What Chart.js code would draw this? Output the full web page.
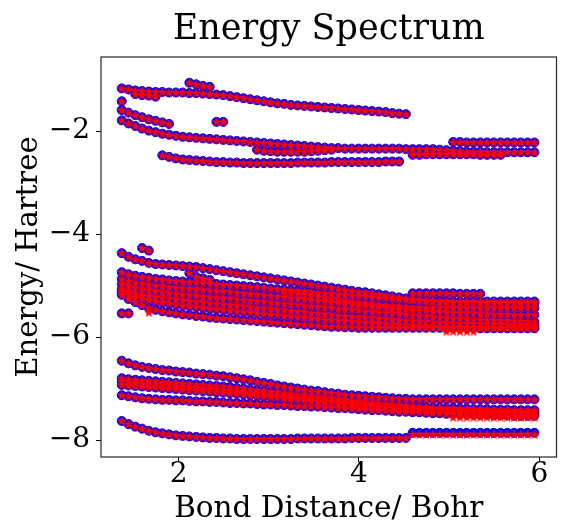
<!DOCTYPE html>
<html>
<head>
<meta charset="utf-8">
<script src="https://cdn.jsdelivr.net/npm/chart.js@4.4.0/dist/chart.umd.min.js"></script>
<style>
html,body{margin:0;padding:0;background:#fff;}
</style>
</head>
<body>
<canvas id="chart" width="562" height="527"></canvas>
<script>
// bond distances (Bohr), shared by every level
const xs=[1.370,1.445,1.520,1.595,1.670,1.745,1.820,1.895,1.970,2.045,2.120,2.195,2.270,2.345,2.420,2.495,
  2.570,2.645,2.720,2.795,2.870,2.945,3.020,3.095,3.170,3.245,3.320,3.395,3.470,3.545,3.620,3.695,
  3.770,3.845,3.920,3.995,4.070,4.145,4.220,4.295,4.370,4.445,4.520,4.595,4.670,4.745,4.820,4.895,
  4.970,5.045,5.120,5.195,5.270,5.345,5.420,5.495,5.570,5.645,5.720,5.795,5.870,5.945];
const xTicks=[2,4,6];
const yTicks=[-8,-6,-4,-2];

// upper levels
const top1=[-1.17,-1.19,-1.21,-1.22,-1.23,-1.24,-1.24,-1.25,-1.25,-1.25,-1.26,-1.26,-1.27,-1.28,-1.29,-1.30,
  -1.32,-1.34,-1.36,-1.38,-1.40,-1.42,-1.44,-1.46,-1.47,-1.49,-1.50,-1.51,-1.52,-1.53,-1.54,-1.55,
  -1.56,-1.57,-1.58,-1.59,-1.60,-1.61,-1.62,-1.63,-1.65,-1.66,-1.67];
const top1b=[-1.28,-1.30,-1.31,-1.33];
const top2=[-1.06,-1.09,-1.12,-1.14];
const top3=[-1.42];
const top4=[-1.59,-1.64,-1.69,-1.73,-1.77,-1.80,-1.83,-1.86];
const top5=[-1.79,-1.85,-1.90,-1.95,-1.99,-2.02,-2.05,-2.07,-2.09,-2.11,-2.12,-2.13,-2.14,-2.15,-2.16,-2.17,
  -2.18,-2.19,-2.20,-2.21,-2.22,-2.23,-2.24,-2.25,-2.26,-2.27,-2.28,-2.29,-2.30,-2.31,-2.32,-2.33,
  -2.33,-2.34,-2.34,-2.34,-2.34,-2.34,-2.34,-2.34,-2.34,-2.34,-2.35,-2.35,-2.35,-2.35,-2.35,-2.36,
  -2.37,-2.38,-2.39,-2.40,-2.40,-2.40,-2.41,-2.41,-2.41,-2.41,-2.41,-2.41,-2.41,-2.41];
const top6=[-2.36,-2.38,-2.39,-2.40,-2.40,-2.40,-2.40,-2.40,-2.39,-2.38,-2.37,-2.36];
const top7=[-2.21,-2.21,-2.22,-2.22,-2.22,-2.22,-2.22,-2.22,-2.22,-2.22,-2.22,-2.22,-2.22];
const top8=[-2.46,-2.46,-2.45,-2.45,-2.45,-2.45,-2.45,-2.45,-2.45,-2.45,-2.46,-2.46,-2.46,-2.46];
const top9=[-2.47,-2.50,-2.53,-2.55,-2.56,-2.57,-2.58,-2.59,-2.60,-2.60,-2.61,-2.61,-2.62,-2.62,-2.62,-2.62,
  -2.62,-2.62,-2.62,-2.62,-2.61,-2.61,-2.61,-2.61,-2.61,-2.60,-2.60,-2.60,-2.60,-2.60,-2.60,-2.60,
  -2.60,-2.59,-2.59,-2.59];
const top10=[-1.82,-1.82];

// middle levels
const mid0=[-4.27,-4.32];
const mid1=[-4.37,-4.44,-4.49,-4.52,-4.56,-4.58,-4.59,-4.60,-4.61,-4.62,-4.63,-4.64,-4.66,-4.68,-4.70,-4.72,
  -4.74,-4.76,-4.78,-4.80,-4.82,-4.84,-4.86,-4.88,-4.90,-4.92,-4.94,-4.96,-4.98,-5.00,-5.02,-5.04,
  -5.06,-5.08,-5.10,-5.12,-5.13,-5.15,-5.17,-5.19,-5.21,-5.23,-5.25,-5.27,-5.29,-5.30,-5.31,-5.32,
  -5.33,-5.33,-5.33,-5.33,-5.33,-5.33,-5.33,-5.34,-5.34,-5.34,-5.34,-5.34,-5.34,-5.34];
const mid1b=[-4.76,-4.83,-4.86,-4.89];
const mid2=[-5.15,-5.15,-5.15,-5.15,-5.15,-5.15,-5.15,-5.16,-5.16,-5.16,-5.16];
const mid3=[-5.11,-5.13,-5.15,-5.17,-5.19,-5.21,-5.23,-5.25,-5.27,-5.29,-5.31,-5.33,-5.34,-5.35,-5.37,-5.38,
  -5.39,-5.40,-5.41,-5.42,-5.42,-5.43,-5.43,-5.43,-5.43,-5.43,-5.43,-5.44,-5.44,-5.44,-5.44,-5.44,
  -5.44,-5.44,-5.44,-5.44,-5.44,-5.44];
const mid4=[-4.74,-4.78,-4.81,-4.83,-4.85,-4.87,-4.88,-4.90,-4.91,-4.92,-4.93,-4.94,-4.95,-4.96,-4.97,-4.98,
  -4.99,-5.00,-5.01,-5.02,-5.03,-5.04,-5.06,-5.07,-5.08,-5.09,-5.10,-5.11,-5.12,-5.14,-5.15,-5.16,
  -5.17,-5.18,-5.19,-5.20,-5.21,-5.22,-5.23,-5.24,-5.25,-5.26,-5.27,-5.28,-5.28,-5.29,-5.29,-5.30,
  -5.30,-5.31,-5.31,-5.31,-5.31,-5.31,-5.31,-5.31,-5.31,-5.31,-5.31,-5.31,-5.31,-5.31];
const mid5=[-4.87,-4.91,-4.94,-4.96,-4.98,-5.00,-5.01,-5.03,-5.04,-5.05,-5.06,-5.07,-5.08,-5.09,-5.10,-5.11,
  -5.12,-5.14,-5.15,-5.16,-5.17,-5.18,-5.20,-5.21,-5.22,-5.24,-5.25,-5.26,-5.28,-5.29,-5.30,-5.32,
  -5.33,-5.35,-5.36,-5.37,-5.39,-5.40,-5.41,-5.42,-5.44,-5.45,-5.46,-5.47,-5.48,-5.49,-5.50,-5.51,
  -5.52,-5.53,-5.53,-5.54,-5.54,-5.55,-5.55,-5.56,-5.56,-5.56,-5.57,-5.57,-5.57,-5.57];
const mid6=[-4.97,-5.01,-5.04,-5.07,-5.09,-5.11,-5.13,-5.14,-5.16,-5.17,-5.18,-5.19,-5.21,-5.22,-5.23,-5.24,
  -5.25,-5.27,-5.28,-5.29,-5.30,-5.31,-5.33,-5.34,-5.35,-5.36,-5.37,-5.39,-5.40,-5.41,-5.42,-5.43,
  -5.45,-5.46,-5.47,-5.48,-5.50,-5.51,-5.52,-5.53,-5.54,-5.55,-5.56,-5.58,-5.59,-5.60,-5.61,-5.62,
  -5.63,-5.64,-5.64,-5.65,-5.66,-5.66,-5.67,-5.67,-5.68,-5.68,-5.69,-5.69,-5.70,-5.70];
const mid7=[-5.07,-5.11,-5.15,-5.18,-5.20,-5.22,-5.24,-5.25,-5.27,-5.28,-5.30,-5.31,-5.32,-5.34,-5.35,-5.36,
  -5.38,-5.39,-5.40,-5.41,-5.43,-5.44,-5.45,-5.46,-5.48,-5.49,-5.50,-5.51,-5.53,-5.54,-5.55,-5.56,
  -5.58,-5.59,-5.60,-5.61,-5.62,-5.63,-5.64,-5.65,-5.66,-5.67,-5.68,-5.69,-5.70,-5.71,-5.72,-5.72,
  -5.73,-5.73,-5.74,-5.74,-5.74,-5.75,-5.75,-5.75,-5.75,-5.76,-5.76,-5.76,-5.76,-5.76];
const mid8=[-5.12,-5.17,-5.22,-5.25,-5.28,-5.31,-5.33,-5.35,-5.37,-5.39,-5.40,-5.42,-5.43,-5.45,-5.46,-5.47,
  -5.49,-5.50,-5.51,-5.52,-5.54,-5.55,-5.56,-5.57,-5.59,-5.60,-5.61,-5.62,-5.64,-5.65,-5.66,-5.67,
  -5.68,-5.69,-5.70,-5.71,-5.72,-5.73,-5.74,-5.75,-5.76,-5.77,-5.77,-5.78,-5.78,-5.79,-5.79,-5.80,
  -5.80,-5.80,-5.81,-5.81,-5.81,-5.81,-5.81,-5.81,-5.81,-5.81,-5.81,-5.81,-5.81,-5.81];
const mid9=[-5.18,-5.26,-5.32,-5.38,-5.43,-5.47,-5.50,-5.52,-5.54,-5.56,-5.57,-5.59,-5.60,-5.62,-5.63,-5.64,
  -5.65,-5.66,-5.67,-5.68,-5.69,-5.70,-5.71,-5.72,-5.73,-5.74,-5.75,-5.76,-5.77,-5.78,-5.79,-5.80,
  -5.80,-5.81,-5.81,-5.82,-5.82,-5.82,-5.82,-5.82,-5.82,-5.82,-5.82,-5.82,-5.82,-5.82,-5.82,-5.82,
  -5.82,-5.82,-5.82,-5.82,-5.82,-5.83,-5.83,-5.83,-5.83,-5.83,-5.83,-5.83,-5.83,-5.83];
const mid10=[-5.54,-5.54];

// lower levels
const low1=[-6.46,-6.51,-6.55,-6.58,-6.60,-6.62,-6.64,-6.65,-6.67,-6.68,-6.69,-6.71,-6.72,-6.73,-6.75,-6.76,
  -6.78,-6.80,-6.82,-6.84,-6.87,-6.89,-6.91,-6.94,-6.96,-6.98,-7.00,-7.02,-7.04,-7.05,-7.07,-7.09,
  -7.10,-7.12,-7.13,-7.14,-7.15,-7.16,-7.17,-7.18,-7.19,-7.20,-7.20,-7.21,-7.21,-7.21,-7.21,-7.21,
  -7.21,-7.21,-7.21,-7.21,-7.21,-7.21,-7.21,-7.21,-7.21,-7.21,-7.21,-7.21,-7.21,-7.21];
const low2=[-6.80,-6.82,-6.83,-6.84,-6.85,-6.86,-6.87,-6.88,-6.89,-6.90,-6.91,-6.92,-6.93,-6.94,-6.95,-6.96,
  -6.97,-6.99,-7.00,-7.02,-7.03,-7.04,-7.06,-7.07,-7.09,-7.10,-7.12,-7.13,-7.15,-7.16,-7.18,-7.19,
  -7.21,-7.22,-7.24,-7.25,-7.26,-7.28,-7.29,-7.30,-7.31,-7.32,-7.33,-7.34,-7.35,-7.36,-7.37,-7.37,
  -7.38,-7.38,-7.39,-7.39,-7.40,-7.40,-7.40,-7.41,-7.41,-7.41,-7.42,-7.42,-7.42,-7.42];
const low3=[-6.86,-6.88,-6.89,-6.90,-6.91,-6.92,-6.93,-6.94,-6.95,-6.96,-6.97,-6.98,-6.99,-7.00,-7.01,-7.03,
  -7.04,-7.05,-7.06,-7.08,-7.09,-7.10,-7.12,-7.13,-7.14,-7.16,-7.17,-7.18,-7.20,-7.21,-7.22,-7.24,
  -7.25,-7.26,-7.28,-7.29,-7.30,-7.32,-7.33,-7.34,-7.35,-7.36,-7.37,-7.38,-7.38,-7.39,-7.40,-7.40,
  -7.41,-7.41,-7.42,-7.42,-7.43,-7.43,-7.43,-7.44,-7.44,-7.44,-7.45,-7.45,-7.45,-7.45];
const low4=[-6.93,-6.94,-6.95,-6.96,-6.97,-6.98,-6.99,-7.00,-7.01,-7.02,-7.03,-7.04,-7.05,-7.06,-7.07,-7.08,
  -7.09,-7.10,-7.11,-7.13,-7.14,-7.15,-7.16,-7.17,-7.19,-7.20,-7.21,-7.22,-7.24,-7.25,-7.26,-7.27,
  -7.29,-7.30,-7.32,-7.33,-7.34,-7.35,-7.36,-7.37,-7.38,-7.39,-7.40,-7.40,-7.41,-7.42,-7.43,-7.43,
  -7.44,-7.44,-7.45,-7.45,-7.46,-7.46,-7.46,-7.47,-7.47,-7.47,-7.48,-7.48,-7.48,-7.48];
const low5=[-7.13,-7.15,-7.17,-7.19,-7.20,-7.21,-7.22,-7.22,-7.23,-7.23,-7.24,-7.25,-7.25,-7.26,-7.26,-7.27,
  -7.28,-7.28,-7.29,-7.29,-7.30,-7.31,-7.31,-7.32,-7.32,-7.33,-7.34,-7.34,-7.35,-7.35,-7.36,-7.37,
  -7.38,-7.38,-7.39,-7.40,-7.41,-7.42,-7.42,-7.43,-7.44,-7.45,-7.45,-7.46,-7.46,-7.47,-7.48,-7.48,
  -7.49,-7.49,-7.50,-7.50,-7.51,-7.51,-7.51,-7.52,-7.52,-7.52,-7.53,-7.53,-7.53,-7.53];
const low6=[-7.63,-7.69,-7.74,-7.78,-7.82,-7.85,-7.87,-7.89,-7.91,-7.92,-7.93,-7.94,-7.95,-7.96,-7.96,-7.97,
  -7.97,-7.98,-7.98,-7.98,-7.98,-7.98,-7.98,-7.98,-7.98,-7.98,-7.97,-7.97,-7.97,-7.97,-7.97,-7.97,
  -7.97,-7.97,-7.96,-7.96,-7.96,-7.96,-7.96,-7.96,-7.96,-7.96,-7.96];
// where the two methods part: exact (blue) and approximate (red)
const low7Exact=[-7.86,-7.86,-7.86,-7.86,-7.86,-7.86,-7.86,-7.86,-7.86,-7.86,-7.86,-7.86,-7.86,-7.86,-7.86,-7.86,-7.86,-7.86,-7.86];
const low7Approx=[-7.89,-7.89,-7.89,-7.89,-7.89,-7.89,-7.89,-7.89,-7.89,-7.89,-7.89,-7.89,-7.89,-7.89,-7.89,-7.89,-7.89,-7.89,-7.89];
const low5Approx=[-7.56,-7.56,-7.56,-7.56,-7.56,-7.56,-7.56,-7.56,-7.56,-7.56,-7.56,-7.56,-7.56];
const mid9Approx=[-5.89,-5.89,-5.89,-5.89,-5.89];
const mid11Approx=[-5.52];

// [first x index, values]
const both=[[0,top1],[2,top1b],[10,top2],[0,top3],[0,top4],[0,top5],[20,top6],[49,top7],[43,top8],[6,top9],[14,top10],
  [3,mid0],[0,mid1],[10,mid1b],[43,mid2],[24,mid3],[0,mid4],[0,mid5],[0,mid6],[0,mid7],[0,mid8],[0,mid9],[0,mid10],
  [0,low1],[0,low2],[0,low3],[0,low4],[0,low5],[0,low6]];
const blueOnly=[[43,low7Exact]];
const redOnly=[[43,low7Approx],[49,low5Approx],[48,mid9Approx],[4,mid11Approx]];

function pts(list){
  const out=[];
  list.forEach(([s,ys])=>ys.forEach((y,k)=>out.push({x:xs[s+k],y})));
  return out;
}

// matplotlib-like filled star
function starImage(){
  const c=document.createElement("canvas"); c.width=12; c.height=12;
  const g=c.getContext("2d");
  g.beginPath();
  for(let k=0;k<10;k++){
    const r=k%2===0?5.4:2.2, a=-Math.PI/2+k*Math.PI/5;
    const px=6+r*Math.cos(a), py=6.4+r*Math.sin(a);
    k===0?g.moveTo(px,py):g.lineTo(px,py);
  }
  g.closePath(); g.fillStyle="#ff0000"; g.fill();
  return c;
}

const serif="'DejaVu Serif', serif";
const minus=v=>v<0?"\u2212"+Math.abs(v):String(v);

// frame round the axes, and the title centred over the plot area
const frame={id:"frame",afterDraw(chart){
  const {ctx,chartArea:a}=chart;
  ctx.save(); ctx.strokeStyle="#262626"; ctx.lineWidth=1.2;
  ctx.strokeRect(a.left,a.top,a.right-a.left,a.bottom-a.top);
  ctx.fillStyle="#000"; ctx.font="35px "+serif; ctx.textAlign="center"; ctx.textBaseline="middle";
  ctx.fillText("Energy Spectrum",(a.left+a.right)/2,30);
  ctx.restore();
}};

new Chart(document.getElementById("chart"),{
  type:"scatter",
  data:{datasets:[
    {label:"approx",data:pts(both.concat(redOnly)),pointStyle:starImage(),order:0},
    {label:"exact",data:pts(both.concat(blueOnly)),pointStyle:"circle",pointRadius:4.5,
      backgroundColor:"#0000ff",borderColor:"#0000ff",borderWidth:1,order:1}
  ]},
  options:{
    responsive:false,animation:false,events:[],devicePixelRatio:1,
    layout:{padding:{left:0,right:2,top:57,bottom:0}},
    plugins:{legend:{display:false},tooltip:{enabled:false},title:{display:false}},
    scales:{
      x:{type:"linear",min:1.14,max:6.19,
        afterBuildTicks:s=>{s.ticks=xTicks.map(v=>({value:v}));},
        afterFit:s=>{s.height=70;},
        ticks:{color:"#000",font:{family:serif,size:28},padding:-4,callback:minus},
        grid:{drawOnChartArea:false,drawTicks:true,tickLength:5,color:"#000"},
        border:{display:false},
        title:{display:true,text:"Bond Distance/ Bohr",color:"#000",
          font:{family:serif,size:29.5},padding:{top:0,bottom:0}}
      },
      y:{type:"linear",min:-8.33,max:-0.56,
        afterBuildTicks:s=>{s.ticks=yTicks.map(v=>({value:v}));},
        afterFit:s=>{s.width=101;},
        ticks:{color:"#000",font:{family:serif,size:28},padding:6,callback:minus},
        grid:{drawOnChartArea:false,drawTicks:true,tickLength:5,color:"#000"},
        border:{display:false},
        title:{display:true,text:"Energy/ Hartree",color:"#000",
          font:{family:serif,size:29},padding:{top:12,bottom:0}}
      }
    }
  },
  plugins:[frame]
});
</script>
</body>
</html>
